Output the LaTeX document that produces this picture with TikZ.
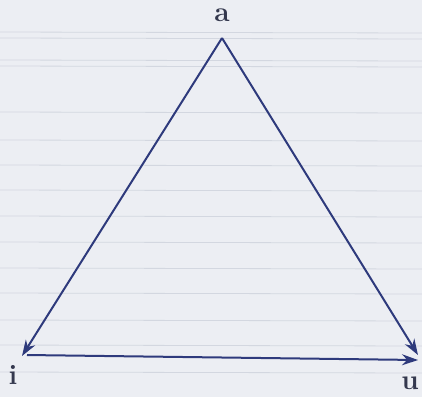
\documentclass[tikz,border=0pt]{standalone}
\usetikzlibrary{arrows.meta}
\definecolor{paper}{HTML}{ECEEF3}
\definecolor{rule}{HTML}{D3D7E0}
\definecolor{ink}{HTML}{2E3A7C}
\definecolor{txt}{HTML}{34384E}
\tikzset{
  edge/.style={draw=ink, line width=2pt, -{Stealth[length=16pt,width=11pt]}},
  lbl/.style={text=txt, font=\bfseries\fontsize{28}{30}\selectfont, inner sep=0pt},
  paperline/.style={draw=rule, line width=0.8pt}
}
\begin{document}
\begin{tikzpicture}[x=1pt,y=-1pt]
  \fill[paper] (0,0) rectangle (422,397);
  \useasboundingbox (0,0) rectangle (422,397);
  \foreach \yy in {32,38,60,66,112,140,165,190,216,242,268,293,320,345,372}
    \draw[paperline] (0,\yy) -- (422,\yy+1);
  \coordinate (a) at (222,38);
  \coordinate (i) at (22,356);
  \coordinate (is) at (27,355);
  \coordinate (u1) at (418,355);
  \coordinate (u2) at (418,360);
  \node[lbl] (la) at (222,15) {a};
  \node[lbl] (li) at (13,375) {i};
  \node[lbl] (lu) at (410,383) {u};
  \draw[edge] (a) -- (i);
  \draw[edge] (a) -- (u1);
  \draw[edge] (is) -- (u2);
\end{tikzpicture}
\end{document}
